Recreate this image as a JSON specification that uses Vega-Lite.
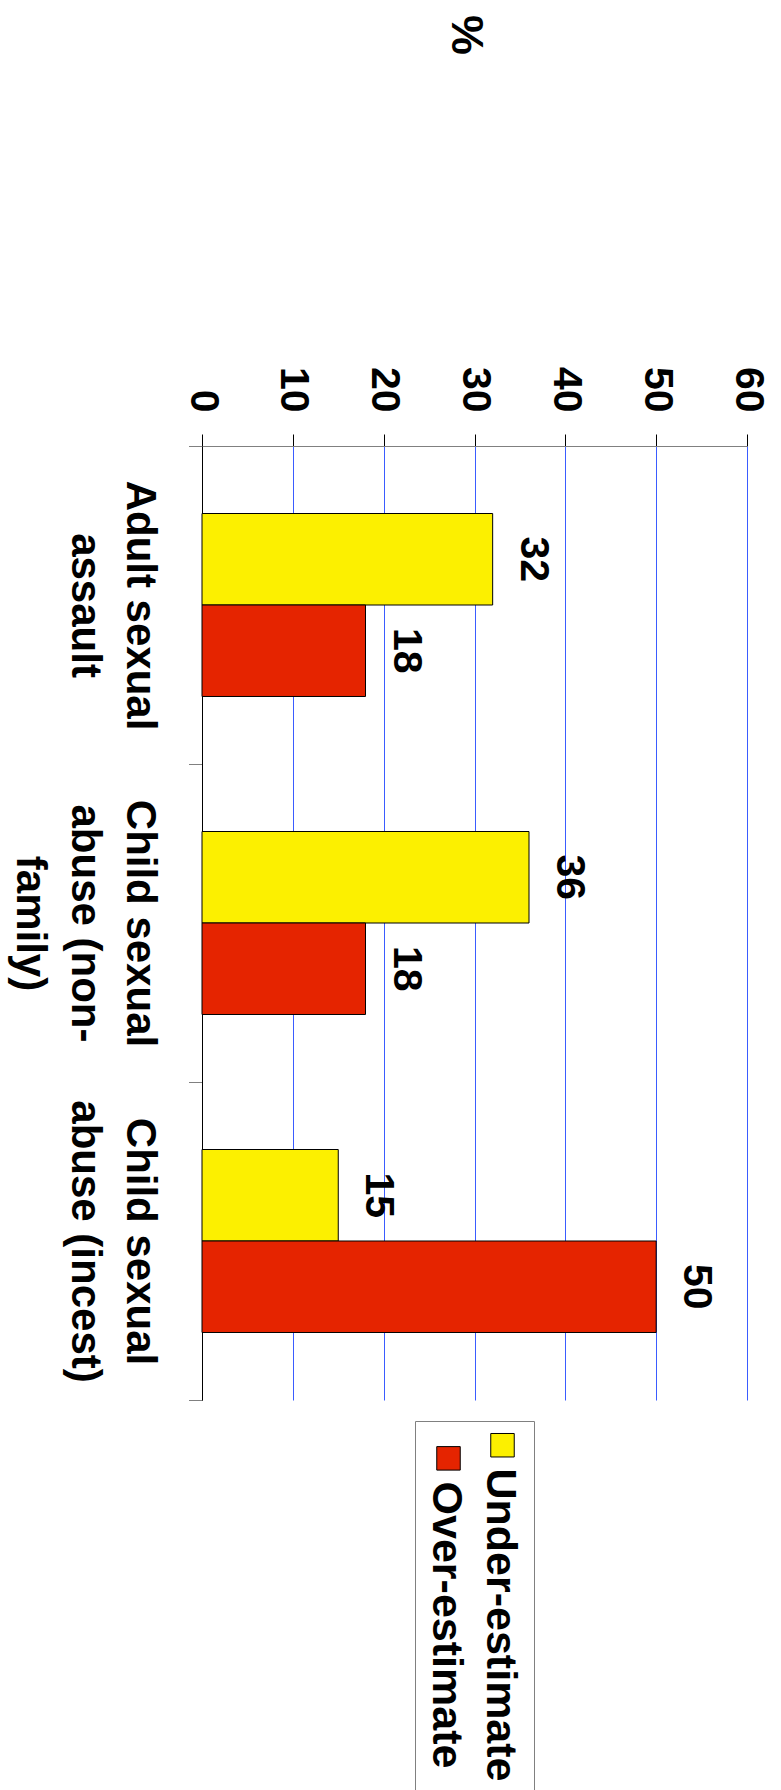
{
  "$schema": "https://vega.github.io/schema/vega-lite/v6.json",
  "autosize": {"type": "none"},
  "padding": {"left": 202, "top": 446, "right": 34, "bottom": 390},
  "width": 545,
  "height": 954,
  "data": {
    "values": [
      {"category": "Adult sexual|assault", "series": "Under-estimate", "value": 32},
      {"category": "Adult sexual|assault", "series": "Over-estimate", "value": 18},
      {"category": "Child sexual|abuse (non-|family)", "series": "Under-estimate", "value": 36},
      {"category": "Child sexual|abuse (non-|family)", "series": "Over-estimate", "value": 18},
      {"category": "Child sexual|abuse (incest)", "series": "Under-estimate", "value": 15},
      {"category": "Child sexual|abuse (incest)", "series": "Over-estimate", "value": 50}
    ]
  },
  "encoding": {
    "y": {
      "field": "category",
      "type": "nominal",
      "sort": null,
      "scale": {"paddingInner": 0, "paddingOuter": 0},
      "axis": {
        "orient": "left",
        "title": null,
        "labelExpr": "split(datum.label, '|')",
        "labelAngle": 90,
        "labelAlign": "center",
        "labelBaseline": "top",
        "labelPadding": 29,
        "labelFontSize": 42,
        "labelFontWeight": "bold",
        "labelColor": "black",
        "labelLineHeight": 55,
        "labelLimit": 0,
        "labelOverlap": false,
        "tickBand": "extent",
        "tickSize": 13.5,
        "tickColor": "#808080",
        "tickWidth": 1,
        "domainColor": "black",
        "domainWidth": 1,
        "grid": false
      }
    },
    "yOffset": {
      "field": "series",
      "sort": ["Under-estimate", "Over-estimate"],
      "scale": {"paddingInner": 0, "paddingOuter": 0.738}
    },
    "x": {
      "field": "value",
      "type": "quantitative",
      "scale": {"domain": [0, 60], "nice": false},
      "axis": {
        "orient": "top",
        "values": [0, 10, 20, 30, 40, 50, 60],
        "title": "%",
        "titleAngle": 90,
        "titleAlign": "right",
        "titleBaseline": "middle",
        "titleFontSize": 45,
        "titleFontWeight": "bold",
        "titleColor": "black",
        "titlePadding": 312,
        "titleX": 263,
        "labelAngle": 90,
        "labelAlign": "right",
        "labelBaseline": "middle",
        "labelPadding": 22,
        "labelFontSize": 41,
        "labelFontWeight": "bold",
        "labelColor": "black",
        "labelFlush": false,
        "labelOverlap": false,
        "tickSize": 12,
        "tickColor": "black",
        "domainColor": "#808080",
        "grid": true,
        "gridColor": {"condition": {"test": "datum.value === 0", "value": "black"}, "value": "#3a5cff"},
        "gridWidth": 1
      }
    }
  },
  "layer": [
    {
      "mark": {"type": "bar", "stroke": "black", "strokeWidth": 1},
      "encoding": {
        "color": {
          "field": "series",
          "type": "nominal",
          "scale": {"domain": ["Over-estimate", "Under-estimate"], "range": ["#e52400", "#fcf000"]},
          "legend": {
            "orient": "none",
            "legendX": 213,
            "legendY": 975,
            "direction": "horizontal",
            "columns": 2,
            "title": null,
            "strokeColor": "#808080",
            "padding": 12,
            "columnPadding": 10,
            "symbolType": "square",
            "symbolSize": 552,
            "symbolStrokeWidth": 1,
            "labelFontSize": 43,
            "labelFontWeight": "bold",
            "labelColor": "black",
            "labelLimit": 0,
            "encoding": {
              "symbols": {
                "y": {"value": 11.75}
              },
              "labels": {
                "angle": {"value": 90},
                "x": {"value": 19},
                "y": {"value": 35},
                "align": {"value": "left"},
                "baseline": {"value": "middle"}
              }
            }
          }
        }
      }
    },
    {
      "mark": {"type": "text", "angle": 90, "align": "center", "baseline": "alphabetic", "dy": -28, "fontSize": 41, "fontWeight": "bold", "color": "black"},
      "encoding": {
        "text": {"field": "value", "type": "quantitative"}
      }
    }
  ],
  "config": {
    "font": "Liberation Sans, Arial, Helvetica, sans-serif",
    "view": {"stroke": null},
    "background": "white"
  }
}
